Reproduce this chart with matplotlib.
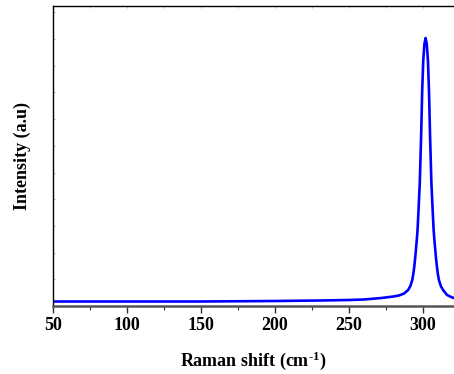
import matplotlib
matplotlib.use('Agg')
import matplotlib.pyplot as plt
from matplotlib.ticker import MultipleLocator

# Raman spectrum (intensity in arbitrary units)
shift = [50, 100, 150, 200, 230, 250, 260, 272, 280, 283.8, 287.3, 290.0,
         291.5, 292.8, 293.5, 294.2, 294.9, 295.9, 296.4, 297.0, 297.9, 298.8,
         299.5, 300.2, 301.0, 301.8, 302.6, 303.4, 304.1, 304.8, 305.7, 306.6,
         307.2, 307.7, 308.7, 309.4, 310.1, 310.8, 312.1, 313.6, 316.3, 319.8,
         321.0]
intensity = [4.5, 4.5, 4.5, 5, 5.5, 6, 6.5, 8, 9.5, 10.5, 12.5, 16,
             20, 26, 32, 40, 50, 67, 77, 95, 124, 171,
             215, 245, 262, 268, 262, 245, 215, 171, 124, 95,
             77, 67, 50, 40, 32, 26, 20, 16, 11, 8.5,
             8]

plt.rcParams['font.family'] = 'Liberation Serif'
plt.rcParams['font.weight'] = 'bold'
plt.rcParams['mathtext.fontset'] = 'custom'
plt.rcParams['mathtext.rm'] = 'Liberation Serif:bold'
plt.rcParams['mathtext.default'] = 'rm'

fig = plt.figure(figsize=(4.54, 3.74), dpi=100)
ax = fig.add_axes([53/454, 68/374, 401/454, 300/374])

ax.plot(shift, intensity, color='#0000ff', lw=1.9)

ax.set_xlim(50, 321)
ax.set_ylim(0, 300)
ax.xaxis.set_major_locator(MultipleLocator(50))
ax.xaxis.set_minor_locator(MultipleLocator(25))
ax.yaxis.set_major_locator(MultipleLocator(26.7))
ax.set_yticklabels([])

ax.spines['right'].set_visible(False)
ax.spines['left'].set_linewidth(1.0)
ax.spines['top'].set_linewidth(1.0)
ax.spines['bottom'].set_linewidth(1.8)
ax.spines['bottom'].set_color('#555555')

ax.tick_params(axis='x', which='major', direction='out', length=5, width=1.0,
               color='#333333', labelsize=13, pad=3)
ax.tick_params(axis='x', which='minor', direction='out', length=3, width=0.8,
               color='#333333')
ax.tick_params(axis='x', which='both', top=False)
ax.tick_params(axis='y', which='major', direction='in', length=1.5, width=0.6,
               color='#aaaaaa', left=True, right=False)
for lab in ax.get_xticklabels():
    lab.set_fontweight('bold')

# faint inward ticks along the top frame
top = ax.secondary_xaxis('top')
top.xaxis.set_major_locator(MultipleLocator(25))
top.tick_params(direction='in', length=1.5, width=0.6, color='#aaaaaa',
                labeltop=False)
top.spines['top'].set_visible(False)

ax.set_xlabel(r'Raman shift (cm$^{\text{-1}}$)', fontsize=13, fontweight='bold', labelpad=11)
ax.set_ylabel('Intensity (a.u)', fontsize=13, fontweight='bold', labelpad=12)

fig.savefig('out.png', dpi=100)
